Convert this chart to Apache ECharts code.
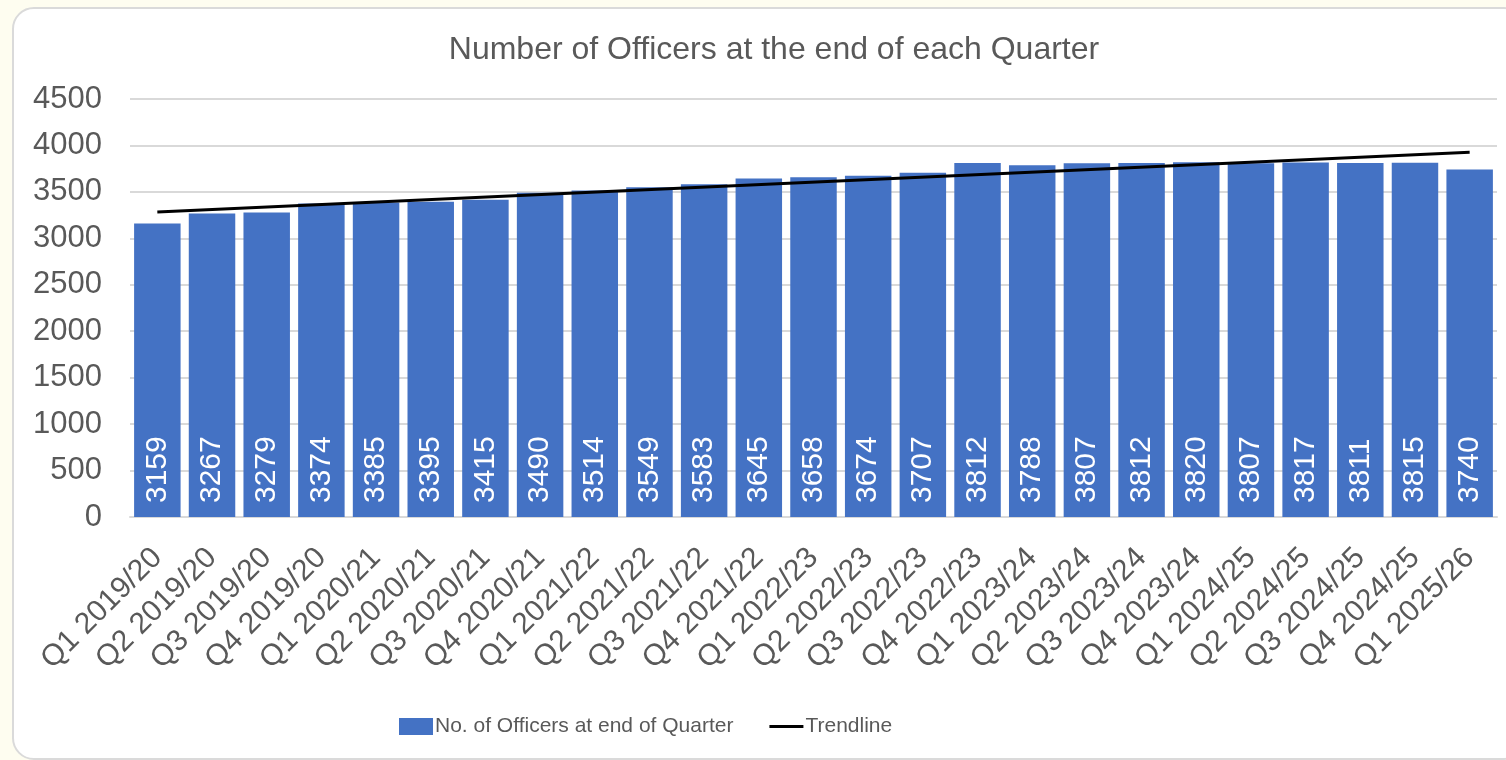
<!DOCTYPE html>
<html>
<head>
<meta charset="utf-8">
<script src="https://cdn.jsdelivr.net/npm/echarts@6/dist/echarts.min.js"></script>
<style>
  html, body { margin: 0; padding: 0; background: #fefdf0; }
  .card {
    position: absolute; left: 12px; top: 7px; width: 1510px; height: 749px;
    background: #fff; border: 2px solid #dadada; border-radius: 22px;
  }
  #chart { position: absolute; left: 0; top: 0; width: 1506px; height: 760px; }
</style>
</head>
<body>
<div class="card"></div>
<div id="chart"></div>
<script>
const quarters = [
  "Q1 2019/20", "Q2 2019/20", "Q3 2019/20", "Q4 2019/20",
  "Q1 2020/21", "Q2 2020/21", "Q3 2020/21", "Q4 2020/21",
  "Q1 2021/22", "Q2 2021/22", "Q3 2021/22", "Q4 2021/22",
  "Q1 2022/23", "Q2 2022/23", "Q3 2022/23", "Q4 2022/23",
  "Q1 2023/24", "Q2 2023/24", "Q3 2023/24", "Q4 2023/24",
  "Q1 2024/25", "Q2 2024/25", "Q3 2024/25", "Q4 2024/25",
  "Q1 2025/26"
];
const officers = [
  3159, 3267, 3279, 3374, 3385, 3395, 3415, 3490, 3514, 3549, 3583, 3645,
  3658, 3674, 3707, 3812, 3788, 3807, 3812, 3820, 3807, 3817, 3811, 3815, 3740
];
// trendline end points (first and last quarter)
const trendEnds = [3284, 3926];

const trend = quarters.map((q, i) =>
  i === 0 ? trendEnds[0] : i === quarters.length - 1 ? trendEnds[1] : "-"
);

const textColor = "#595959";
const chart = echarts.init(document.getElementById("chart"));
chart.setOption({
  backgroundColor: "transparent",
  textStyle: { fontFamily: "Liberation Sans, Arial, sans-serif" },
  title: {
    text: "Number of Officers at the end of each Quarter",
    left: 769,
    textAlign: "center",
    top: 29,
    textStyle: { color: textColor, fontSize: 32, fontWeight: "normal" },
  },
  grid: { left: 130, right: 9, top: 99, bottom: 243 },
  legend: {
    left: 394,
    top: 711,
    itemWidth: 34,
    itemHeight: 17,
    itemGap: 36,
    textStyle: { color: textColor, fontSize: 21, padding: [0, 0, 0, -3] },
    data: [
      { name: "No. of Officers at end of Quarter", icon: "rect" },
      { name: "Trendline", icon: "path://M0,0 L34,0 L34,3 L0,3 Z" },
    ],
  },
  xAxis: {
    type: "category",
    data: quarters,
    axisTick: { show: false },
    axisLine: { lineStyle: { color: "#d9d9d9", width: 2 } },
    axisLabel: {
      color: textColor,
      fontSize: 30,
      rotate: 45,
      interval: 0,
      margin: 36,
    },
  },
  yAxis: {
    type: "value",
    min: 0,
    max: 4500,
    interval: 500,
    axisLabel: {
      color: textColor,
      fontSize: 31,
      margin: 28,
      formatter: (v) => String(v),
    },
    splitLine: { lineStyle: { color: "#d9d9d9", width: 2 } },
  },
  series: [
    {
      name: "No. of Officers at end of Quarter",
      type: "bar",
      data: officers,
      barCategoryGap: "15%",
      itemStyle: { color: "#4472c4" },
      label: {
        show: true,
        position: "insideBottom",
        rotate: 90,
        align: "left",
        verticalAlign: "middle",
        distance: 14,
        color: "#fff",
        fontSize: 30,
      },
    },
    {
      name: "Trendline",
      type: "line",
      data: trend,
      connectNulls: true,
      symbol: "none",
      lineStyle: { color: "#000", width: 3 },
      itemStyle: { color: "#000" },
      z: 5,
    },
  ],
});
</script>
</body>
</html>
